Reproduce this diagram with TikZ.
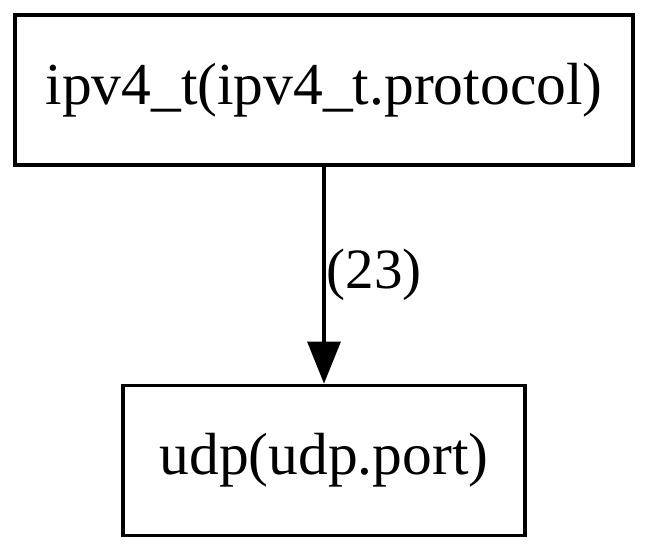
\documentclass[tikz,border=0pt]{standalone}
\usepackage{fontspec}
\setmainfont{Liberation Serif}
\usepackage{tikz}
\usetikzlibrary{positioning,arrows.meta}

\begin{document}
\begin{tikzpicture}[
  x=1pt,y=1pt,
  font=\fontsize{59.5}{62}\selectfont,
  box/.style={draw,line width=3.2pt,align=center,inner sep=0pt,minimum height=150pt},
  >={Triangle[length=42pt,width=33pt]}]
\useasboundingbox (0,0) rectangle (650,-550);
\node[box,minimum width=618pt] (ipv) at (324,-90) {ipv4\_t(ipv4\_t.protocol)};
\node[box,minimum width=402pt,below=217pt of ipv] (udp) {udp(udp.port)};
\draw[->,line width=3.2pt] (ipv) -- node[midway,right,inner sep=1pt,font=\fontsize{57}{60}\selectfont]{(23)} (udp);
\end{tikzpicture}
\end{document}
